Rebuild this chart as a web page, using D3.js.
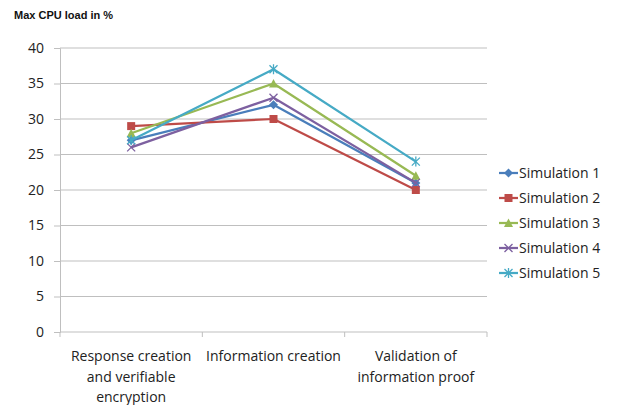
<!DOCTYPE html>
<html>
<head>
<meta charset="utf-8">
<script src="https://cdn.jsdelivr.net/npm/d3@7"></script>
<style>
  body { margin: 0; background: #fff; }
  svg { display: block; }
  text { font-family: "Open Sans", Lato, sans-serif; fill: #222; }
</style>
</head>
<body>
<svg></svg>
<script>
const width = 619;
const height = 405;

// categories and series
const categories = [
    "Response creation\nand verifiable\nencryption",
    "Information creation",
    "Validation of\ninformation proof"
];
const seriesNames = ["Simulation 1", "Simulation 2", "Simulation 3", "Simulation 4", "Simulation 5"];
const sim1 = [27, 32, 21];
const sim2 = [29, 30, 20];
const sim3 = [28, 35, 22];
const sim4 = [26, 33, 21];
const sim5 = [27, 37, 24];
const yTicks = [0, 5, 10, 15, 20, 25, 30, 35, 40];

const colors = ["#4a7ebb", "#be4b48", "#98b954", "#7d60a0", "#46aac5"];
const markers = ["diamond", "square", "triangle", "cross", "star"];
const series = [sim1, sim2, sim3, sim4, sim5].map((v, i) => ({
    name: seriesNames[i], values: v, color: colors[i], marker: markers[i]
}));

const plot = { left: 60, right: 487, top: 48, bottom: 332 };

const svg = d3.select("svg")
    .attr("width", width)
    .attr("height", height);

const x = d3.scaleBand()
    .domain(d3.range(categories.length))
    .range([plot.left, plot.right]);

const y = d3.scaleLinear()
    .domain([0, 40])
    .range([plot.bottom, plot.top]);

// title
svg.append("text")
    .attr("x", 14)
    .attr("y", 19)
    .style("font-family", "Arial, 'Liberation Sans', sans-serif")
    .style("font-weight", "bold")
    .style("font-size", "11px")
    .style("fill", "#111")
    .text("Max CPU load in %");

// gridlines
svg.append("g")
    .selectAll("line")
    .data(yTicks.filter(d => d > 0))
    .enter().append("line")
    .attr("x1", plot.left)
    .attr("x2", plot.right)
    .attr("y1", d => y(d))
    .attr("y2", d => y(d))
    .attr("stroke", "#bfbfbf")
    .attr("stroke-width", 1);

// y axis
const yAxis = svg.append("g")
    .attr("transform", `translate(${plot.left},0)`)
    .call(d3.axisLeft(y).tickValues(yTicks).tickSize(6).tickPadding(10));
yAxis.select(".domain").attr("stroke", "#bfbfbf");
yAxis.selectAll(".tick line").attr("stroke", "#bfbfbf");
yAxis.selectAll(".tick text")
    .style("font-size", "14px")
    .style("font-family", "'Open Sans', sans-serif")
    .attr("fill", "#222");

// x axis
const xAxis = svg.append("g")
    .attr("transform", `translate(0,${plot.bottom})`);
xAxis.append("line")
    .attr("x1", plot.left).attr("x2", plot.right)
    .attr("stroke", "#bfbfbf");
xAxis.selectAll("line.tk")
    .data(d3.range(categories.length + 1))
    .enter().append("line")
    .attr("class", "tk")
    .attr("x1", d => plot.left + d * x.bandwidth())
    .attr("x2", d => plot.left + d * x.bandwidth())
    .attr("y1", 0).attr("y2", 5)
    .attr("stroke", "#bfbfbf");

const labels = xAxis.selectAll("text.cat")
    .data(categories)
    .enter().append("text")
    .attr("class", "cat")
    .attr("text-anchor", "middle")
    .attr("transform", (d, i) => `translate(${x(i) + x.bandwidth() / 2},29)`)
    .style("font-size", "14px");
labels.selectAll("tspan")
    .data(d => d.split("\n"))
    .enter().append("tspan")
    .attr("x", 0)
    .attr("dy", (d, i) => i === 0 ? 0 : 20.5)
    .text(d => d);

// marker shapes
function drawMarker(g, type, color) {
    if (type === "diamond") {
        g.append("path").attr("d", "M0,-4.5L4.5,0L0,4.5L-4.5,0Z").attr("fill", color);
    } else if (type === "square") {
        g.append("rect").attr("x", -4).attr("y", -4).attr("width", 8).attr("height", 8).attr("fill", color);
    } else if (type === "triangle") {
        g.append("path").attr("d", "M0,-4.5L4.5,4L-4.5,4Z").attr("fill", color);
    } else if (type === "cross") {
        g.append("path").attr("d", "M-4,-4L4,4M-4,4L4,-4")
            .attr("stroke", color).attr("stroke-width", 1.3).attr("fill", "none");
    } else if (type === "star") {
        g.append("path").attr("d", "M-4,-4L4,4M-4,4L4,-4M0,-5V5")
            .attr("stroke", color).attr("stroke-width", 1.3).attr("fill", "none");
    }
}

const line = d3.line()
    .x((d, i) => x(i) + x.bandwidth() / 2)
    .y(d => y(d));

const sGroup = svg.append("g")
    .selectAll("g")
    .data(series)
    .enter().append("g");

sGroup.append("path")
    .attr("d", d => line(d.values))
    .attr("fill", "none")
    .attr("stroke", d => d.color)
    .attr("stroke-width", 2.25)
    .attr("stroke-linejoin", "round");

sGroup.each(function (s) {
    const g = d3.select(this);
    s.values.forEach((v, i) => {
        const m = g.append("g")
            .attr("transform", `translate(${x(i) + x.bandwidth() / 2},${y(v)})`);
        drawMarker(m, s.marker, s.color);
    });
});

// legend
const legend = svg.append("g")
    .attr("transform", "translate(499,173)");
const item = legend.selectAll("g")
    .data(series)
    .enter().append("g")
    .attr("transform", (d, i) => `translate(0,${i * 25})`);
item.append("line")
    .attr("x1", 0).attr("x2", 19)
    .attr("stroke", d => d.color)
    .attr("stroke-width", 2.25);
item.each(function (s) {
    drawMarker(d3.select(this).append("g").attr("transform", "translate(9.5,0)"), s.marker, s.color);
});
item.append("text")
    .attr("x", 20)
    .attr("y", 5)
    .style("font-size", "14px")
    .text(d => d.name);
</script>
</body>
</html>
